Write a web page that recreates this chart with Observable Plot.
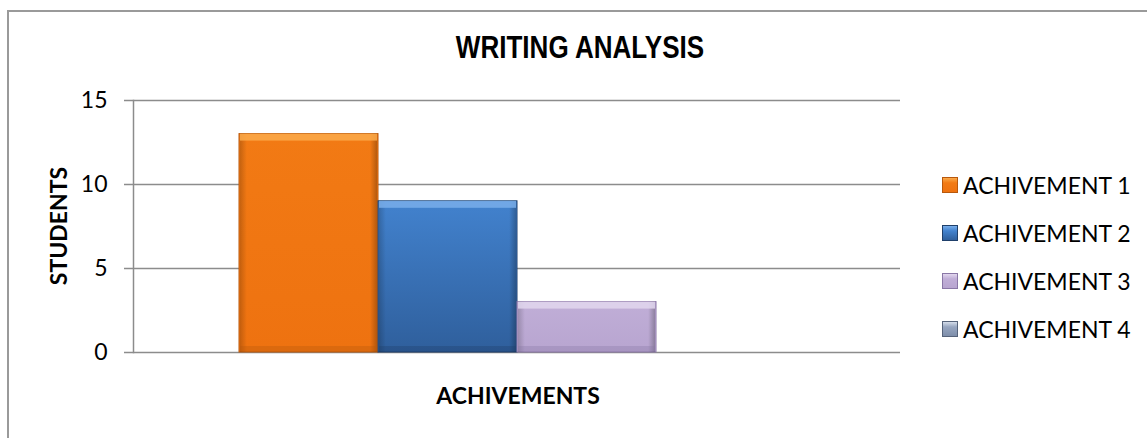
<!DOCTYPE html>
<html>
<head>
<meta charset="utf-8">
<script src="https://cdn.jsdelivr.net/npm/d3@7"></script>
<script src="https://cdn.jsdelivr.net/npm/@observablehq/plot@0.6"></script>
<style>
  html, body { margin: 0; padding: 0; background: #fff; }
  #wrap { position: relative; width: 1147px; height: 438px; overflow: hidden; background: #fff; font-family: Lato, "Open Sans", sans-serif; color: #000; }
  #border { position: absolute; left: 7px; top: 10px; width: 1300px; height: 600px; border-top: 2px solid #9a9a9a; border-left: 2px solid #9a9a9a; }
  #chart { position: absolute; left: 0; top: 0; }
  .title { position: absolute; left: 580px; top: 48px; transform: translate(-50%, -50%) scale(0.84, 1); font-family: "Liberation Sans", Arial, sans-serif; font-weight: bold; font-size: 31px; white-space: nowrap; }
  .ytitle { position: absolute; left: 58px; top: 226px; transform: translate(-50%, -50%) rotate(-90deg); font-weight: bold; font-size: 23px; white-space: nowrap; }
  .xtitle { position: absolute; left: 518px; top: 395px; transform: translate(-50%, -50%); font-weight: bold; font-size: 23px; white-space: nowrap; }
  .legend { position: absolute; left: 942px; top: 161px; }
  .legend .row { position: relative; height: 48px; display: flex; align-items: center; }
  .legend .sw { width: 16px; height: 16px; box-sizing: border-box; border: 1px solid rgba(0,0,0,0.35); margin-right: 5px; }
  .legend .lab { font-size: 23px; white-space: nowrap; }
</style>
</head>
<body>
<div id="wrap">
  <div id="border"></div>
  <div id="chart"></div>
  <div class="title" id="title"></div>
  <div class="ytitle" id="ytitle"></div>
  <div class="xtitle" id="xtitle"></div>
  <div class="legend" id="legend"></div>
</div>
<script>
const chartTitle = "WRITING ANALYSIS";
const yLabel = "STUDENTS";
const xLabel = "ACHIVEMENTS";
const categories = ["ACHIVEMENT 1", "ACHIVEMENT 2", "ACHIVEMENT 3", "ACHIVEMENT 4"];
const students = [13, 9, 3, 0];
const yTicks = [0, 5, 10, 15];
// [light top, base top, base bottom, dark edge]
const palette = [
  ["#FBAA4A", "#F27A14", "#EE7210", "#B8580C"],
  ["#79AEEA", "#4282CE", "#2F5F9C", "#1F3F6A"],
  ["#E2D7EE", "#C0AED7", "#B8A5D0", "#8A77A6"],
  ["#D5DDEA", "#97A6C0", "#7E8EAA", "#56637A"]
];

const data = categories.map((c, i) => ({cat: c, v: students[i], i}));
const shown = data.filter(d => d.v > 0);

const svg = Plot.plot({
  width: 1147,
  height: 438,
  marginLeft: 133,
  marginRight: 247,
  marginTop: 100,
  marginBottom: 86,
  style: {fontFamily: "Lato, 'Open Sans', sans-serif", fontSize: "23px", color: "#000", background: "transparent"},
  x: {domain: categories, paddingInner: 0, paddingOuter: 0.74, axis: null},
  y: {domain: [0, 15], ticks: yTicks},
  color: {type: "identity"},
  marks: [
    Plot.ruleY(yTicks, {stroke: "#8c8c8c", strokeWidth: 1.5, insetLeft: -9}),
    Plot.frame({anchor: "left", stroke: "#8c8c8c", strokeWidth: 1.5}),
    Plot.axisY({ticks: yTicks, tickSize: 0, tickPadding: 26, label: null, fill: "#000", fontSize: 23}),
    Plot.barY(shown, {x: "cat", y: "v", fill: d => `url(#gv${d.i})`, stroke: d => palette[d.i][3], strokeWidth: 1}),
    Plot.barY(shown, {x: "cat", y: "v", fill: "url(#gh)", insetLeft: 1, insetRight: 1}),
    Plot.barY(shown, {x: "cat", y1: "v", y2: "v", insetBottom: -7, insetLeft: 1, insetRight: 1, fill: d => palette[d.i][0], fillOpacity: 0.85}),
    Plot.barY(shown, {x: "cat", y1: 0, y2: 0, insetTop: -6, insetLeft: 1, insetRight: 1, fill: d => palette[d.i][3], fillOpacity: 0.35})
  ]
});

// gradient defs
const ns = "http://www.w3.org/2000/svg";
const defs = document.createElementNS(ns, "defs");
palette.forEach((p, i) => {
  const g = document.createElementNS(ns, "linearGradient");
  g.setAttribute("id", "gv" + i);
  g.setAttribute("x1", "0"); g.setAttribute("y1", "0");
  g.setAttribute("x2", "0"); g.setAttribute("y2", "1");
  [[0, p[1]], [1, p[2]]].forEach(([o, c]) => {
    const s = document.createElementNS(ns, "stop");
    s.setAttribute("offset", o);
    s.setAttribute("stop-color", c);
    g.appendChild(s);
  });
  defs.appendChild(g);
});
const gh = document.createElementNS(ns, "linearGradient");
gh.setAttribute("id", "gh");
gh.setAttribute("x1", "0"); gh.setAttribute("y1", "0");
gh.setAttribute("x2", "1"); gh.setAttribute("y2", "0");
[[0, "#000", 0.18], [0.05, "#000", 0.0], [0.95, "#000", 0.0], [1, "#000", 0.25]].forEach(([o, c, a]) => {
  const s = document.createElementNS(ns, "stop");
  s.setAttribute("offset", o);
  s.setAttribute("stop-color", c);
  s.setAttribute("stop-opacity", a);
  gh.appendChild(s);
});
defs.appendChild(gh);
svg.insertBefore(defs, svg.firstChild);
document.getElementById("chart").appendChild(svg);

document.getElementById("title").textContent = chartTitle;
document.getElementById("ytitle").textContent = yLabel;
document.getElementById("xtitle").textContent = xLabel;

const legend = document.getElementById("legend");
categories.forEach((c, i) => {
  const row = document.createElement("div");
  row.className = "row";
  const sw = document.createElement("div");
  sw.className = "sw";
  sw.style.background = `linear-gradient(to bottom, ${palette[i][0]} 0%, ${palette[i][1]} 35%, ${palette[i][2]} 100%)`;
  sw.style.borderColor = palette[i][3];
  const lab = document.createElement("div");
  lab.className = "lab";
  lab.textContent = c;
  row.appendChild(sw);
  row.appendChild(lab);
  legend.appendChild(row);
});
</script>
</body>
</html>
